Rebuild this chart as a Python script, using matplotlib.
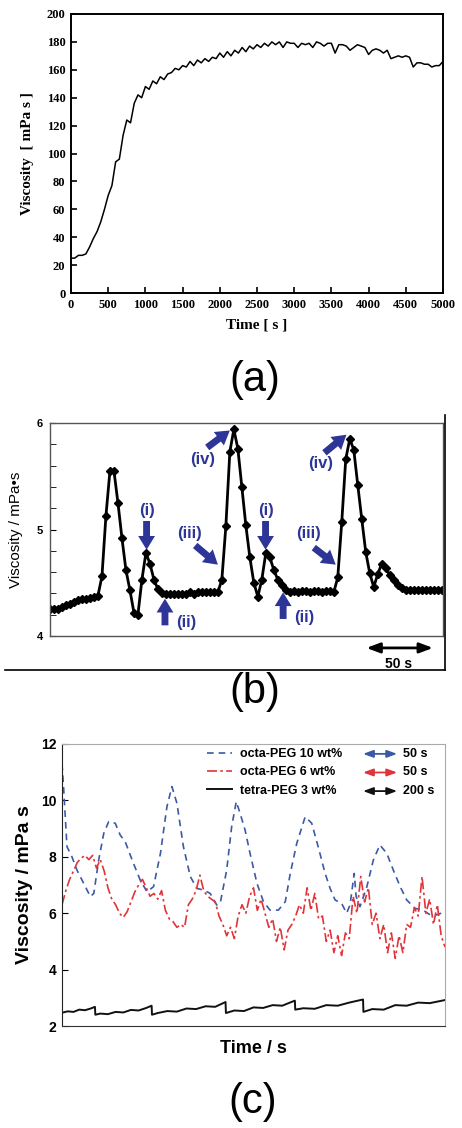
import numpy as np
import matplotlib
matplotlib.use("Agg")
import matplotlib.pyplot as plt
from matplotlib.lines import Line2D
from matplotlib.transforms import blended_transform_factory

# ---------------- data ----------------
# (a) viscosity during gelation, every 50 s
a_visc = [25, 25, 27, 27, 28, 33, 39, 44, 51, 60,
          70, 77, 94, 96, 113, 124, 122, 136, 142, 140,
          148, 146, 152, 150, 155, 153, 157, 158, 161, 160,
          163, 162, 166, 163, 167, 165, 168, 166, 169, 168,
          172, 169, 173, 170, 174, 172, 176, 173, 177, 175,
          178, 176, 179, 177, 180, 178, 180, 176, 180, 179,
          179, 176, 179, 178, 179, 176, 180, 179, 177, 179,
          179, 172, 178, 178, 177, 174, 176, 178, 177, 176,
          171, 174, 175, 174, 172, 174, 168, 169, 170, 169,
          170, 169, 162, 165, 165, 164, 164, 162, 163, 163,
          166]
a_time = np.arange(0, 5001, 50)

# (b) oscillating viscosity, one point every 3 s
b_visc = [4.25, 4.25, 4.25, 4.27, 4.29, 4.30, 4.32, 4.34, 4.35, 4.35,
          4.36, 4.37, 4.38, 4.56, 5.13, 5.55, 5.55, 5.25, 4.92, 4.62,
          4.43, 4.22, 4.20, 4.53, 4.78, 4.68, 4.53, 4.44, 4.40, 4.39,
          4.39, 4.39, 4.39, 4.39, 4.39, 4.41, 4.39, 4.41, 4.41, 4.41,
          4.41, 4.41, 4.41, 4.53, 5.03, 5.73, 5.94, 5.76, 5.40, 5.04,
          4.74, 4.50, 4.37, 4.53, 4.78, 4.74, 4.62, 4.53, 4.48, 4.43,
          4.41, 4.42, 4.41, 4.42, 4.42, 4.41, 4.42, 4.42, 4.41, 4.42,
          4.42, 4.41, 4.55, 5.07, 5.66, 5.85, 5.75, 5.42, 5.10, 4.79,
          4.59, 4.46, 4.58, 4.68, 4.64, 4.57, 4.53, 4.48, 4.45, 4.43,
          4.43, 4.43, 4.43, 4.43, 4.43, 4.43, 4.43, 4.43, 4.43]
b_time = np.arange(len(b_visc)) * 3

# (c) three gels, time in arbitrary units (0-100)
octa10_t = [0, 0.4, 1.3, 2.6, 3.9, 6.1, 7.4, 8.3, 9.6, 10.9,
            12.2, 13.9, 15.2, 16.5, 18.3, 20.4, 22.2, 23.9, 25.7, 27.4,
            28.7, 30.0, 31.7, 33.5, 35.2, 37.0, 38.7, 40.4, 41.3, 43.0,
            44.3, 45.5, 46.5, 47.8, 49.1, 50.9, 52.6, 54.3, 56.5, 58.3,
            59.6, 61.3, 63.5, 65.2, 67.0, 68.7, 70.0, 71.3, 73.0, 74.3,
            75.2, 76.3, 76.8, 77.8, 79.6, 81.3, 83.0, 84.8, 86.5, 88.3,
            90.0, 92.2, 94.3, 96.1, 97.8, 100]
octa10_v = [11.3, 10.5, 8.36, 8.0, 7.53, 6.94, 6.59, 6.7, 7.9, 8.83,
            9.25, 9.19, 8.77, 8.54, 7.89, 7.18, 6.76, 6.94, 8.12, 9.78,
            10.49, 9.9, 8.36, 7.30, 6.88, 6.82, 6.70, 6.29, 6.35, 7.53,
            9.07, 9.96, 9.54, 8.95, 8.12, 7.06, 6.41, 6.11, 6.11, 6.41,
            7.41, 8.48, 9.42, 9.19, 8.30, 7.41, 6.88, 6.47, 6.35, 6.0,
            6.29, 7.41, 6.59, 6.23, 6.94, 7.89, 8.42, 8.12, 7.53, 6.94,
            6.47, 6.17, 6.11, 5.94, 5.94, 6.05]

octa6_v = [6.3, 6.8, 7.2, 7.5, 7.8, 7.95, 8.05, 7.9, 8.05, 7.6,
           7.9, 7.5, 6.9, 6.5, 6.3, 6.0, 5.85, 6.05, 6.4, 6.75,
           7.0, 7.2, 6.9, 6.6, 6.7, 6.5, 6.8, 6.1, 5.8, 5.7,
           5.5, 5.6, 5.5, 6.3, 6.5, 6.8, 7.35, 6.8, 6.6, 6.5,
           6.4, 5.9, 5.6, 5.2, 5.5, 5.1, 5.9, 6.3, 6.0, 6.6,
           6.9, 6.1, 6.5, 6.0, 5.5, 5.8, 5.0, 5.5, 4.7, 5.4,
           5.6, 5.9, 6.3, 6.0, 6.9, 6.1, 6.7, 5.8, 5.9, 5.0,
           5.4, 4.6, 5.2, 4.5, 5.3, 5.1, 6.6, 6.0, 7.3, 6.4,
           6.9, 5.6, 6.0, 5.1, 5.6, 4.6, 5.3, 4.4, 5.2, 4.6,
           5.6, 5.5, 6.2, 5.9, 7.3, 6.0, 6.5, 5.6, 6.3, 5.2,
           4.8]
octa6_t = np.linspace(0, 100, len(octa6_v))

tetra3_t = [0, 1.5, 3, 4.5, 6, 7.5, 8.6, 8.7, 10, 12,
            14, 16, 18, 20, 22, 23.4, 23.5, 25, 27.5, 30,
            32.5, 35, 37.5, 40, 42.7, 42.8, 45, 47.5, 50, 52.5,
            55, 57.5, 60.8, 60.9, 63, 66, 69, 72, 75, 78.6,
            78.7, 81, 84, 87, 90, 93, 96, 100]
tetra3_v = [2.47, 2.52, 2.50, 2.58, 2.56, 2.62, 2.68, 2.40, 2.44, 2.42,
            2.50, 2.48, 2.57, 2.55, 2.64, 2.72, 2.40, 2.46, 2.53, 2.51,
            2.62, 2.60, 2.70, 2.68, 2.85, 2.46, 2.55, 2.53, 2.66, 2.64,
            2.74, 2.72, 2.90, 2.58, 2.63, 2.61, 2.74, 2.72, 2.83, 2.94,
            2.50, 2.60, 2.58, 2.74, 2.72, 2.83, 2.81, 2.92]

c_labels = ["octa-PEG 10 wt%", "octa-PEG 6 wt%", "tetra-PEG 3 wt%"]
c_periods = ["50 s", "50 s", "200 s"]
c_colors = ["#3b5aa6", "#e0343a", "#111111"]

SANS = "Liberation Sans"
SERIF = "Liberation Serif"
ARROW_BLUE = "#2d3596"

fig = plt.figure(figsize=(4.62, 11.28), dpi=100)
W, H = 462.0, 1128.0


def box(x0, y0, x1, y1):
    return [x0 / W, 1 - y1 / H, (x1 - x0) / W, (y1 - y0) / H]


# ---------------- (a) ----------------
ax1 = fig.add_axes(box(71, 14, 443, 293))
ax1.plot(a_time, a_visc, color="black", lw=1.1)
ax1.set_xlim(0, 5000)
ax1.set_ylim(0, 200)
ax1.set_xticks(np.arange(0, 5001, 500))
ax1.set_yticks(np.arange(0, 201, 20))
ax1.tick_params(direction="in", length=4, width=1.2, labelsize=9, pad=4)
for lab in ax1.get_xticklabels() + ax1.get_yticklabels():
    lab.set_fontfamily(SERIF)
    lab.set_fontweight("bold")
for s in ax1.spines.values():
    s.set_linewidth(1.4)
ax1.set_xlabel("Time [ s ]", fontfamily=SERIF, fontweight="bold", fontsize=11, labelpad=6)
ax1.set_ylabel("Viscosity  [ mPa s ]", fontfamily=SERIF, fontweight="bold", fontsize=11, labelpad=9)
fig.text(255 / W, 1 - 380 / H, "(a)", ha="center", va="center", fontfamily=SANS, fontsize=30)

# ---------------- (b) ----------------
ax2 = fig.add_axes(box(50, 423, 443, 636))
ax2.plot(b_time, b_visc, color="black", lw=2, marker="D", ms=4)
ax2.set_xlim(0, 295)
ax2.set_ylim(4, 6)
ax2.set_xticks([])
ax2.set_yticks([4, 5, 6])
ax2.set_yticks(np.arange(4, 6.01, 0.2), minor=True)
ax2.tick_params(axis="y", which="both", direction="in", length=4, labelsize=8, pad=5)
for lab in ax2.get_yticklabels():
    lab.set_fontfamily(SANS)
    lab.set_fontweight("bold")
for s in ax2.spines.values():
    s.set_color("#555555")
    s.set_linewidth(1.0)
ax2.set_ylabel("Viscosity / mPa\u2022s", fontfamily=SANS, fontsize=11, labelpad=10)

arrows_b = [
    ("(i)", (72.5, 4.81), (72.5, 5.08), (72.5, 5.18)),
    ("(ii)", (86.3, 4.35), (86.3, 4.10), (102, 4.13)),
    ("(iii)", (126, 4.67), (109, 4.85), (104.5, 4.96)),
    ("(iv)", (135, 5.93), (118, 5.77), (114.5, 5.66)),
    ("(i)", (161.8, 4.81), (161.8, 5.08), (161.8, 5.18)),
    ("(ii)", (175, 4.41), (175, 4.16), (191, 4.17)),
    ("(iii)", (214.5, 4.67), (198, 4.83), (194, 4.96)),
    ("(iv)", (222.5, 5.89), (206, 5.72), (203, 5.62)),
]
for lab, head, tail, txt in arrows_b:
    ax2.annotate("", xy=head, xytext=tail,
                 arrowprops=dict(arrowstyle="simple,head_width=1.1,head_length=0.9,tail_width=0.45",
                                 color=ARROW_BLUE, lw=0, mutation_scale=11, shrinkA=0, shrinkB=0))
    ax2.text(txt[0], txt[1], lab, color=ARROW_BLUE, ha="center", va="center",
             fontfamily=SANS, fontweight="bold", fontsize=12)

trans_b = blended_transform_factory(ax2.transData, ax2.transAxes)
ax2.annotate("", xy=(237.5, -0.056), xytext=(287.5, -0.056), xycoords=trans_b, textcoords=trans_b,
             arrowprops=dict(arrowstyle="<|-|>,head_width=0.3,head_length=0.8", color="black", lw=2,
                             shrinkA=0, shrinkB=0), annotation_clip=False)
ax2.text(262, -0.13, "50 s", transform=trans_b, ha="center", va="center",
         fontfamily=SANS, fontweight="bold", fontsize=10, clip_on=False)
fig.add_artist(Line2D([445 / W, 445 / W], [1 - 415 / H, 1 - 670 / H], color="black", lw=1.2))
fig.add_artist(Line2D([5 / W, 445 / W], [1 - 670 / H, 1 - 670 / H], color="black", lw=1.2))
fig.text(255 / W, 1 - 692 / H, "(b)", ha="center", va="center", fontfamily=SANS, fontsize=30)

# ---------------- (c) ----------------
ax3 = fig.add_axes(box(62, 744, 445, 1026))
ax3.plot(octa10_t, octa10_v, color=c_colors[0], lw=1.2, ls=(0, (4, 3)), label=c_labels[0])
ax3.plot(octa6_t, octa6_v, color=c_colors[1], lw=1.2, ls=(0, (6, 2, 1.5, 2)), label=c_labels[1])
ax3.plot(tetra3_t, tetra3_v, color=c_colors[2], lw=1.4, label=c_labels[2])
ax3.set_xlim(0, 100)
ax3.set_ylim(2, 12)
ax3.set_xticks([])
ax3.set_yticks(np.arange(2, 13, 2))
ax3.tick_params(axis="y", direction="in", length=4, labelsize=10, pad=4)
for lab in ax3.get_yticklabels():
    lab.set_fontfamily(SANS)
    lab.set_fontweight("bold")
ax3.spines["left"].set_color("#222222")
ax3.spines["bottom"].set_color("#333333")
ax3.spines["top"].set_color("#aaaaaa")
ax3.spines["right"].set_color("#aaaaaa")
ax3.set_ylabel("Viscosity / mPa s", fontfamily=SANS, fontweight="bold", fontsize=14, labelpad=6)
ax3.set_xlabel("Time / s", fontfamily=SANS, fontweight="bold", fontsize=13, labelpad=10)
ax3.legend(loc="upper left", bbox_to_anchor=(0.35, 1.025), frameon=False, handlelength=2.0,
           handletextpad=0.6, labelspacing=0.5,
           prop={"family": SANS, "weight": "bold", "size": 9})
for row, (per, col) in enumerate(zip(c_periods, c_colors)):
    yy = 0.965 - row * 0.066
    ax3.annotate("", xy=(0.786, yy), xytext=(0.875, yy), xycoords="axes fraction",
                 arrowprops=dict(arrowstyle="<|-|>,head_width=0.22,head_length=0.6", color=col, lw=1.3,
                                 shrinkA=0, shrinkB=0))
    ax3.text(0.89, yy, per, transform=ax3.transAxes, ha="left", va="center",
             fontfamily=SANS, fontweight="bold", fontsize=9)
fig.text(253 / W, 1 - 1102 / H, "(c)", ha="center", va="center", fontfamily=SANS, fontsize=30)

fig.savefig("out.png", dpi=100)
